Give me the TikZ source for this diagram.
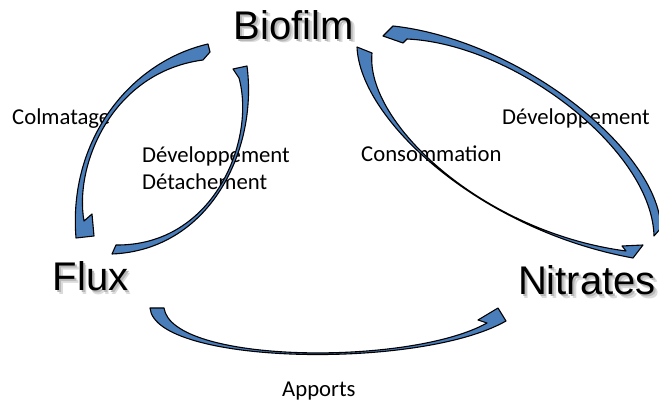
\documentclass[tikz,border=0pt]{standalone}
\usepackage{fontspec}
\setmainfont{Carlito}
\newfontfamily\bigfont{Liberation Sans}
\definecolor{arrowblue}{RGB}{74,126,187}
\begin{document}
\begin{tikzpicture}[x=1pt,y=-1pt,
  curvedarrow/.style={fill=arrowblue, draw=black, line width=1.1pt, line join=round},
  lbl/.style={inner sep=0pt, anchor=base west, font=\fontsize{22.7}{27}\selectfont},
  big/.style={inner sep=0pt, anchor=base, font=\bigfont\fontsize{40}{48}\selectfont},
  bigshadowA/.style={big, text=black!14},
  bigshadowB/.style={big, text=black!28}]
\useasboundingbox (0,0) rectangle (659,403);
% shadows of the big labels
\node[bigshadowA] (biofilmsA) at (297.5,43) {Biofilm};
\node[bigshadowA] (fluxsA) at (94,294.5) {Flux};
\node[bigshadowA] (nitratessA) at (590.5,298.5) {Nitrates};
\node[bigshadowB] (biofilmsB) at (296,41.5) {Biofilm};
\node[bigshadowB] (fluxsB) at (92.5,293) {Flux};
\node[bigshadowB] (nitratessB) at (589,297) {Nitrates};
% big labels
\node[big] (biofilm) at (294,39.5) {Biofilm};
\node[big] (flux) at (90.5,291) {Flux};
\node[big] (nitrates) at (587,295) {Nitrates};
% small labels
\node[lbl] (colmatage) at (12,125) {Colmatage};
\node[lbl] (devA) at (142,163) {Développement};
\node[lbl] (detach) at (142,190) {Détachement};
\node[lbl] (conso) at (361,162) {Consommation};
\node[lbl] (devB) at (502,125) {Développement};
\node[lbl] (apports) at (282,397) {Apports};
% curved arrows
% Biofilm -> Flux (Colmatage)
\path[curvedarrow] (208,44) .. controls (130,62) and (68,140) .. (76,238)
  -- (94,236) -- (92,214) -- (84,221)
  .. controls (74,165) and (112,72) .. (203,60) -- (210,52) -- cycle;
% Flux -> Biofilm (Developpement / Detachement)
\path[curvedarrow] (112,254) .. controls (210,250) and (258,150) .. (247,66)
  -- (233,69) -- (239,78)
  .. controls (256,140) and (214,246) .. (116,245) -- cycle;
% Nitrates -> Biofilm (Developpement)
\path[curvedarrow] (383,36) -- (393,26) .. controls (520,40) and (658,150) .. (661,228)
  -- (654,236) .. controls (652,150) and (515,44) .. (407,39) -- (403,43) -- cycle;
% Biofilm -> Nitrates (Consommation)
\path[curvedarrow] (357,47) .. controls (360,120) and (480,230) .. (633,258)
  -- (643,245) -- (622,246) -- (626,251)
  .. controls (482,232) and (365,122) .. (372,53) -- cycle;
% Flux -> Nitrates (Apports)
\path[curvedarrow] (150,308) .. controls (155,365) and (420,370) .. (506,321)
  -- (498,308) -- (478,320) -- (487,323)
  .. controls (410,366) and (172,364) .. (164,308) -- cycle;
\end{tikzpicture}
\end{document}
